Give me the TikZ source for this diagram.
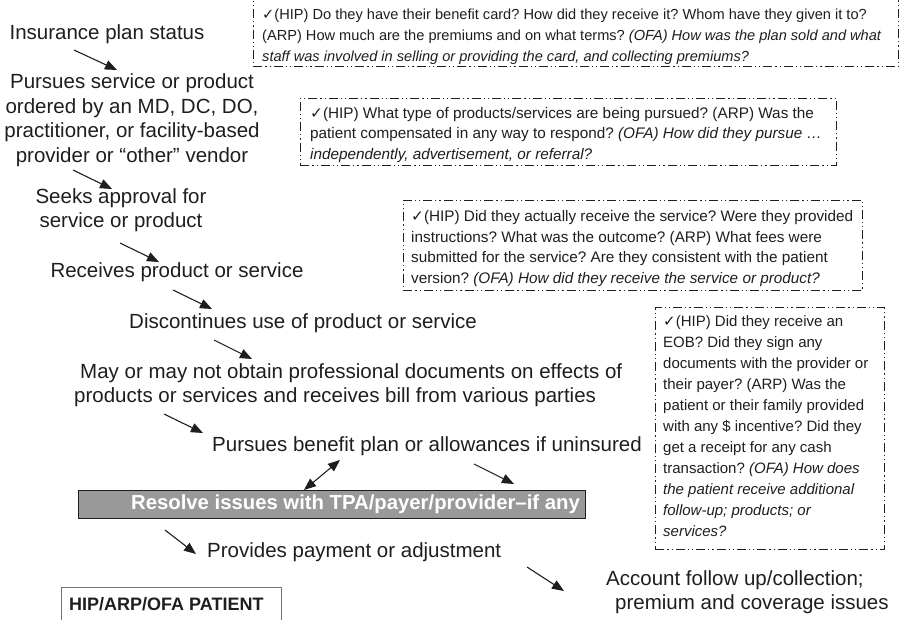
\documentclass[tikz,border=0pt]{standalone}
\usepackage{fontspec}
\setmainfont{Liberation Sans}
\newfontfamily\symfont{DejaVu Sans}
\usetikzlibrary{arrows.meta}
\newcommand\chk{{\symfont\char"2713}}
\definecolor{ink}{HTML}{1E1E1E}
\definecolor{bargray}{HTML}{999999}
\frenchspacing
\begin{document}
\begin{tikzpicture}[x=1pt,y=-1pt,
  flow/.style={font=\fontsize{20.5}{24.5}\selectfont, align=center, inner sep=0pt, text=ink},
  qbox/.style={draw=ink, line width=0.9pt,
    dash pattern=on 9pt off 3pt on 1.2pt off 3pt on 1.2pt off 3pt,
    anchor=north west, inner sep=0pt},
  qtext/.style={align=left, inner sep=0pt, anchor=west, text=ink},
  arr/.style={-{Triangle[length=12pt,width=9.5pt]}, line width=1.1pt, draw=ink},
  darr/.style={{Triangle[length=12pt,width=9.5pt]}-{Triangle[length=12pt,width=9.5pt]}, line width=1.1pt, draw=ink},
]
\useasboundingbox (0,0) rectangle (900,619);

% question boxes
\node[qbox, minimum width=645pt, minimum height=67pt] (b1) at (253,-1) {};
\node[qtext, font=\fontsize{14.6}{21}\selectfont] (q1) at ([xshift=9pt,yshift=-3.5pt]b1.west) {\chk(HIP) Do they have their benefit card? How did they receive it? Whom have they given it to?\\
(ARP) How much are the premiums and on what terms? \textit{(OFA) How was the plan sold and what}\\
\textit{staff was involved in selling or providing the card, and collecting premiums?}};

\node[qbox, minimum width=536pt, minimum height=67pt] (b2) at (300,98) {};
\node[qtext, font=\fontsize{15.3}{20.5}\selectfont] (q2) at ([xshift=10pt,yshift=-3pt]b2.west) {\chk(HIP) What type of products/services are being pursued? (ARP) Was the\\
patient compensated in any way to respond? \textit{(OFA) How did they pursue …}\\
\textit{independently, advertisement, or referral?}};

\node[qbox, minimum width=459pt, minimum height=90pt] (b3) at (403,200) {};
\node[qtext, font=\fontsize{15.3}{20.4}\selectfont] (q3) at ([xshift=8pt,yshift=-3pt]b3.west) {\chk(HIP) Did they actually receive the service? Were they provided\\
instructions? What was the outcome? (ARP) What fees were\\
submitted for the service? Are they consistent with the patient\\
version? \textit{(OFA) How did they receive the service or product?}};

\node[qbox, minimum width=229pt, minimum height=242pt] (b4) at (655,307) {};
\node[qtext, font=\fontsize{15}{21}\selectfont] (q4) at ([xshift=8pt,yshift=2pt]b4.west) {\chk(HIP) Did they receive an\\
EOB? Did they sign any\\
documents with the provider or\\
their payer? (ARP) Was the\\
patient or their family provided\\
with any \$ incentive? Did they\\
get a receipt for any cash\\
transaction? \textit{(OFA) How does}\\
\textit{the patient receive additional}\\
\textit{follow-up; products; or}\\
\textit{services?}};

% patient flow
\node[flow] (t1) at (107,34) {Insurance plan status};
\node[flow] (t2) at (132,120) {Pursues service or product\\ordered by an MD, DC, DO,\\practitioner, or facility-based\\provider or ``other'' vendor};
\node[flow] (t3) at (121,210) {Seeks approval for\\service or product};
\node[flow] (t4) at (177,272) {Receives product or service};
\node[flow] (t5) at (303,323) {Discontinues use of product or service};
\node[flow, align=left, anchor=west] (t6) at (74,385) {\hspace*{6pt}May or may not obtain professional documents on effects of\\products or services and receives bill from various parties};
\node[flow, anchor=west] (t7) at (212,446) {Pursues benefit plan or allowances if uninsured};
\node[flow, anchor=west] (t8) at (207,552) {Provides payment or adjustment};
\node[flow, align=left, anchor=west] (t9) at (606,592) {Account follow up/collection;\\\hspace*{9pt}premium and coverage issues};

% resolve bar
\node[draw=ink, fill=bargray, line width=1pt, minimum width=507pt, minimum height=28pt, anchor=north west, inner sep=0pt] (bar) at (78,490) {};
\node[font=\bfseries\fontsize{20.3}{24}\selectfont, text=white, anchor=east, inner sep=0pt] (bartext) at ([xshift=-6pt]bar.east) {Resolve issues with TPA/payer/provider--if any};

% legend box
\node[draw=black!55, line width=1pt, minimum width=220pt, minimum height=50pt, anchor=north west, inner sep=0pt] (leg) at (61,587) {};
\node[font=\bfseries\fontsize{18}{20}\selectfont, text=ink, anchor=west, inner sep=0pt] (legtext) at (69,604) {HIP/ARP/OFA PATIENT};

% arrow ends
\coordinate (a1s) at (74,50);   \coordinate (a1e) at (117,70);
\coordinate (a2s) at (73,170);  \coordinate (a2e) at (112,189);
\coordinate (a3s) at (120,243); \coordinate (a3e) at (159,262);
\coordinate (a4s) at (173,290); \coordinate (a4e) at (212,309);
\coordinate (a5s) at (214,340); \coordinate (a5e) at (252,359);
\coordinate (a6s) at (164,414); \coordinate (a6e) at (203,433);
\coordinate (a7s) at (304,490); \coordinate (a7e) at (340,460);
\coordinate (a8s) at (474,464); \coordinate (a8e) at (514,484);
\coordinate (a9s) at (165,530); \coordinate (a9e) at (196,554);
\coordinate (a10s) at (527,567); \coordinate (a10e) at (564,591);

\draw[arr] (a1s) -- (a1e);
\draw[arr] (a2s) -- (a2e);
\draw[arr] (a3s) -- (a3e);
\draw[arr] (a4s) -- (a4e);
\draw[arr] (a5s) -- (a5e);
\draw[arr] (a6s) -- (a6e);
\draw[darr] (a7s) -- (a7e);
\draw[arr] (a8s) -- (a8e);
\draw[arr] (a9s) -- (a9e);
\draw[arr] (a10s) -- (a10e);
\end{tikzpicture}
\end{document}
